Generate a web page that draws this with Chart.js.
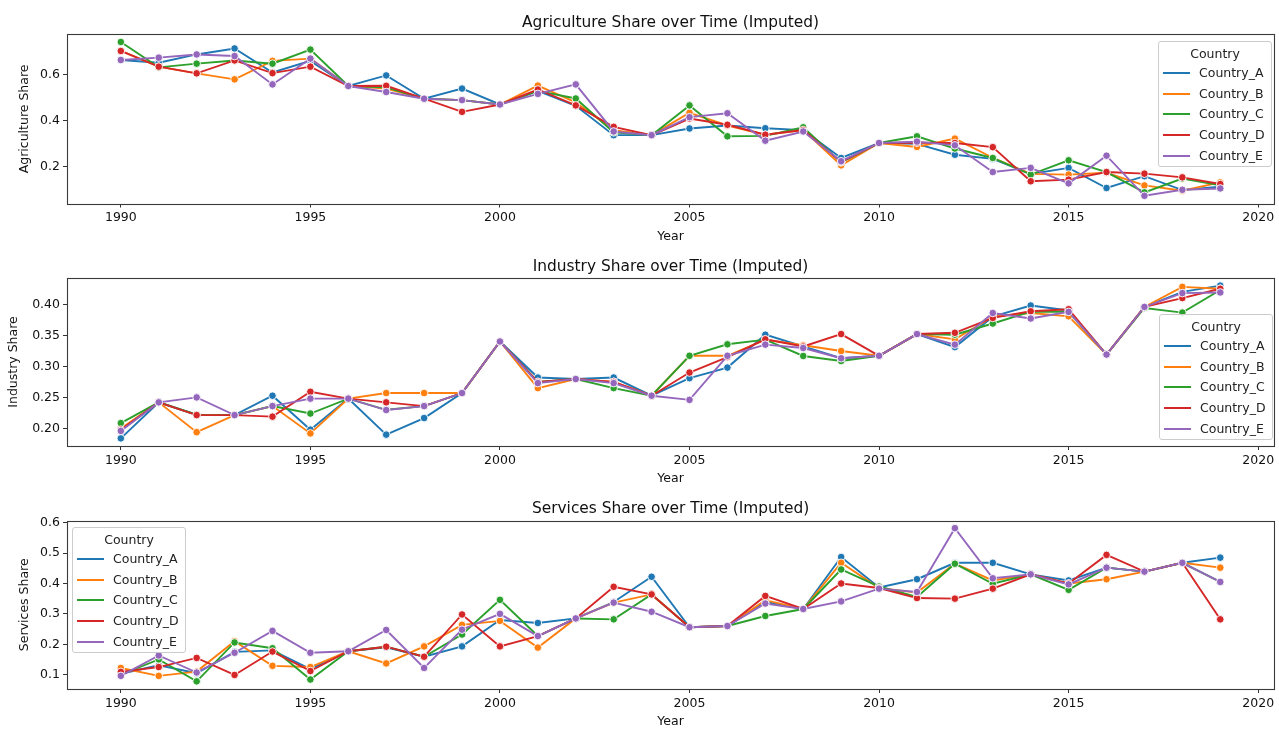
<!DOCTYPE html>
<html><head><meta charset="utf-8">
<script src="https://cdn.jsdelivr.net/npm/chart.js@4.4.1/dist/chart.umd.min.js"></script>
<style>
html,body{margin:0;padding:0;background:#fff;overflow:hidden;width:1279px;height:729px;position:relative;}
canvas{position:absolute;left:0;}
.legend{position:absolute;width:114px;height:126px;background:rgba(255,255,255,0.8);border:1px solid #cccccc;border-radius:3px;box-sizing:border-box;font-family:"DejaVu Sans";font-size:12.5px;color:#222;z-index:5;}
.legend .lt{position:absolute;left:0;right:0;top:3px;height:18px;line-height:18px;text-align:center;}
.legend .row{position:absolute;left:0;right:0;height:18px;line-height:18px;}
.legend .sw{position:absolute;left:4px;top:8px;width:27px;height:2px;}
.legend .tx{position:absolute;left:40px;top:0;white-space:nowrap;}
</style></head>
<body>
<script>
const years = [1990,1991,1992,1993,1994,1995,1996,1997,1998,1999,2000,2001,2002,2003,2004,2005,2006,2007,2008,2009,2010,2011,2012,2013,2014,2015,2016,2017,2018,2019];
const countries = ['Country_A','Country_B','Country_C','Country_D','Country_E'];
const colors = ['#1f77b4','#ff7f0e','#2ca02c','#d62728','#9467bd'];

// Agriculture share
const agriA = [0.664,0.652,0.688,0.714,0.610,0.660,0.551,0.597,0.496,0.540,0.471,0.530,0.465,0.338,0.338,0.367,0.380,0.368,0.360,0.239,0.304,0.300,0.253,0.235,0.170,0.196,0.109,0.160,0.100,0.115];
const agriB = [0.703,0.635,0.606,0.580,0.660,0.670,0.551,0.540,0.496,0.490,0.471,0.553,0.480,0.360,0.338,0.435,0.380,0.340,0.360,0.207,0.304,0.287,0.323,0.240,0.170,0.167,0.175,0.120,0.097,0.133];
const agriC = [0.742,0.632,0.648,0.662,0.648,0.709,0.551,0.545,0.496,0.490,0.471,0.530,0.497,0.350,0.338,0.467,0.333,0.335,0.372,0.220,0.304,0.333,0.280,0.239,0.167,0.229,0.178,0.090,0.150,0.120];
const agriD = [0.703,0.635,0.606,0.662,0.607,0.635,0.551,0.552,0.496,0.439,0.471,0.536,0.467,0.374,0.338,0.410,0.383,0.340,0.360,0.222,0.304,0.305,0.304,0.286,0.138,0.145,0.178,0.171,0.155,0.126];
const agriE = [0.664,0.674,0.688,0.681,0.558,0.670,0.551,0.525,0.496,0.490,0.471,0.517,0.558,0.354,0.338,0.416,0.433,0.314,0.354,0.225,0.304,0.310,0.294,0.178,0.196,0.129,0.249,0.075,0.101,0.107];

// Industry share
const indA = [0.184,0.242,0.222,0.2215,0.2527,0.198,0.248,0.190,0.2167,0.257,0.340,0.282,0.2796,0.282,0.2527,0.281,0.298,0.351,0.332,0.313,0.317,0.352,0.331,0.380,0.398,0.390,0.319,0.3957,0.420,0.430];
const indB = [0.200,0.242,0.194,0.2215,0.236,0.192,0.248,0.257,0.257,0.257,0.340,0.265,0.2796,0.275,0.2527,0.317,0.317,0.343,0.334,0.3247,0.317,0.352,0.3435,0.380,0.386,0.3806,0.319,0.3957,0.428,0.425];
const indC = [0.2086,0.242,0.222,0.2215,0.236,0.224,0.248,0.230,0.236,0.257,0.340,0.275,0.2796,0.265,0.2527,0.317,0.3355,0.343,0.3167,0.3086,0.317,0.352,0.351,0.369,0.388,0.388,0.319,0.394,0.3866,0.423];
const indD = [0.198,0.242,0.2215,0.2215,0.219,0.259,0.248,0.242,0.236,0.257,0.340,0.275,0.2796,0.275,0.2527,0.290,0.315,0.3435,0.332,0.352,0.317,0.352,0.354,0.378,0.3887,0.392,0.319,0.3957,0.410,0.425];
const indE = [0.196,0.242,0.250,0.2215,0.236,0.248,0.248,0.2296,0.236,0.257,0.340,0.273,0.2796,0.273,0.2527,0.246,0.317,0.335,0.3296,0.313,0.317,0.352,0.335,0.386,0.377,0.3877,0.319,0.3957,0.418,0.419];

// Services share
const servA = [0.103,0.131,0.105,0.175,0.180,0.118,0.177,0.190,0.159,0.193,0.280,0.270,0.285,0.339,0.422,0.256,0.260,0.340,0.316,0.487,0.387,0.414,0.468,0.468,0.430,0.410,0.452,0.439,0.468,0.485];
const servB = [0.122,0.096,0.110,0.210,0.129,0.125,0.177,0.137,0.193,0.264,0.277,0.189,0.285,0.337,0.364,0.256,0.260,0.345,0.316,0.468,0.385,0.370,0.465,0.410,0.430,0.400,0.414,0.439,0.468,0.452];
const servC = [0.100,0.150,0.078,0.206,0.187,0.084,0.177,0.192,0.159,0.232,0.346,0.227,0.285,0.282,0.364,0.256,0.260,0.293,0.316,0.446,0.390,0.356,0.465,0.399,0.430,0.379,0.452,0.439,0.468,0.405];
const servD = [0.109,0.125,0.155,0.099,0.176,0.112,0.177,0.192,0.159,0.298,0.193,0.227,0.285,0.389,0.364,0.256,0.260,0.359,0.316,0.400,0.385,0.352,0.350,0.383,0.430,0.400,0.494,0.439,0.468,0.282];
const servE = [0.096,0.163,0.107,0.172,0.244,0.172,0.177,0.247,0.122,0.248,0.300,0.227,0.285,0.337,0.307,0.256,0.260,0.334,0.316,0.341,0.383,0.372,0.582,0.417,0.430,0.397,0.452,0.439,0.468,0.405];

// Tick values and labels
const xTickValues = [1990,1995,2000,2005,2010,2015,2020];
const xTickLabels = ['1990','1995','2000','2005','2010','2015','2020'];
const agriTickValues = [0.2,0.4,0.6];
const agriTickLabels = ['0.2','0.4','0.6'];
const indTickValues = [0.20,0.25,0.30,0.35,0.40];
const indTickLabels = ['0.20','0.25','0.30','0.35','0.40'];
const servTickValues = [0.1,0.2,0.3,0.4,0.5,0.6];
const servTickLabels = ['0.1','0.2','0.3','0.4','0.5','0.6'];

const FONT = 'DejaVu Sans';
const X_H = 39.25;

const framePlugin = {
  id:'frame',
  afterDraw(chart){
    const {ctx, chartArea:a} = chart;
    ctx.save();
    ctx.strokeStyle = '#3a3a3a';
    ctx.lineWidth = 1.1;
    ctx.strokeRect(Math.round(a.left)+0.5, Math.round(a.top)+0.5, Math.round(a.right)-Math.round(a.left), Math.round(a.bottom)-Math.round(a.top));
    // axes title, centred over the plot area like matplotlib
    const t = chart.options.plugins.axTitle;
    ctx.fillStyle = '#111';
    ctx.font = '15.4px "DejaVu Sans"';
    ctx.textAlign = 'center';
    ctx.textBaseline = 'alphabetic';
    ctx.fillText(t.text, (a.left + a.right) / 2, a.top - 7.5);
    ctx.restore();
  }
};

function makePanel(cfg){
  const canvas = document.createElement('canvas');
  canvas.width = 1279; canvas.height = cfg.h;
  canvas.style.top = cfg.top + 'px';
  canvas.style.width = '1279px'; canvas.style.height = cfg.h + 'px';
  document.body.appendChild(canvas);
  const all = cfg.series.flat();
  const lo = Math.min(...all), hi = Math.max(...all), m = (hi - lo) * 0.05;
  new Chart(canvas, {
    type:'line',
    data:{
      datasets: cfg.series.map((s,i)=>({
        label: countries[i],
        data: s.map((v,j)=>({x: years[j], y: v})),
        borderColor: colors[i],
        backgroundColor: colors[i],
        pointBackgroundColor: colors[i],
        pointBorderColor: '#ffffff',
        pointBorderWidth: 0.9,
        pointRadius: 3.8,
        borderWidth: 1.9,
        tension: 0,
        order: 4 - i
      }))
    },
    options:{
      responsive:false, animation:false, devicePixelRatio:1,
      layout:{padding:{left:0, right:2, top: cfg.plotTop - cfg.top, bottom: cfg.top + cfg.h - cfg.plotBottom - X_H}},
      plugins:{
        legend:{display:false},
        tooltip:{enabled:false},
        title:{display:false},
        axTitle:{text: cfg.title}
      },
      scales:{
        x:{
          type:'linear',
          min: years[0] - 1.42, max: years[years.length-1] + 1.42,
          afterBuildTicks: s => { s.ticks = xTickValues.map(v => ({value:v})); },
          afterFit: s => { s.height = X_H; s.paddingLeft = 0; s.paddingRight = 0; },
          grid:{display:true, drawOnChartArea:false, drawTicks:true, tickLength:4, color:'#333', tickWidth:1},
          border:{display:false},
          ticks:{padding:3, color:'#111', autoSkip:false, maxRotation:0,
            font:{family:FONT, size:12.5},
            callback:(v,i) => xTickLabels[i]},
          title:{display:true, text:'Year', color:'#111',
            font:{family:FONT, size:12.5, lineHeight:1}, padding:{top:0,bottom:0}}
        },
        y:{
          type:'linear',
          min: lo - m, max: hi + m,
          afterBuildTicks: s => { s.ticks = cfg.tickValues.map(v => ({value:v})); },
          afterFit: s => { s.width = 67; s.paddingTop = 0; s.paddingBottom = 0; },
          grid:{display:true, drawOnChartArea:false, drawTicks:true, tickLength:4, color:'#333', tickWidth:1},
          border:{display:false},
          ticks:{padding:3, color:'#111', autoSkip:false,
            font:{family:FONT, size:12.5},
            callback:(v,i) => cfg.tickLabels[i]},
          title:{display:true, text: cfg.ylabel, color:'#111',
            font:{family:FONT, size:12.5, lineHeight:1}, padding:{top: cfg.yTitlePad, bottom:0}}
        }
      }
    },
    plugins:[framePlugin]
  });
}

function makeLegend(left, top){
  const box = document.createElement('div');
  box.className = 'legend';
  box.style.left = left + 'px'; box.style.top = top + 'px';
  const t = document.createElement('div');
  t.className = 'lt'; t.textContent = 'Country';
  box.appendChild(t);
  countries.forEach((c,i) => {
    const row = document.createElement('div');
    row.className = 'row';
    row.style.top = (32 + 20.7*i - 9 - 1) + 'px';
    const sw = document.createElement('span');
    sw.className = 'sw'; sw.style.background = colors[i];
    const tx = document.createElement('span');
    tx.className = 'tx'; tx.textContent = c;
    row.appendChild(sw); row.appendChild(tx);
    box.appendChild(row);
  });
  document.body.appendChild(box);
}

makePanel({top:0, h:244, plotTop:34.3, plotBottom:203.5,
  title:'Agriculture Share over Time (Imputed)', ylabel:'Agriculture Share', yTitlePad:18.75,
  series:[agriA,agriB,agriC,agriD,agriE], tickValues:agriTickValues, tickLabels:agriTickLabels});
makePanel({top:246, h:242, plotTop:278, plotBottom:446,
  title:'Industry Share over Time (Imputed)', ylabel:'Industry Share', yTitlePad:7.75,
  series:[indA,indB,indC,indD,indE], tickValues:indTickValues, tickLabels:indTickLabels});
makePanel({top:490, h:239, plotTop:520.5, plotBottom:689,
  title:'Services Share over Time (Imputed)', ylabel:'Services Share', yTitlePad:18.75,
  series:[servA,servB,servC,servD,servE], tickValues:servTickValues, tickLabels:servTickLabels});

makeLegend(1158, 41);
makeLegend(1159, 314);
makeLegend(72, 527);
</script>
</body></html>
